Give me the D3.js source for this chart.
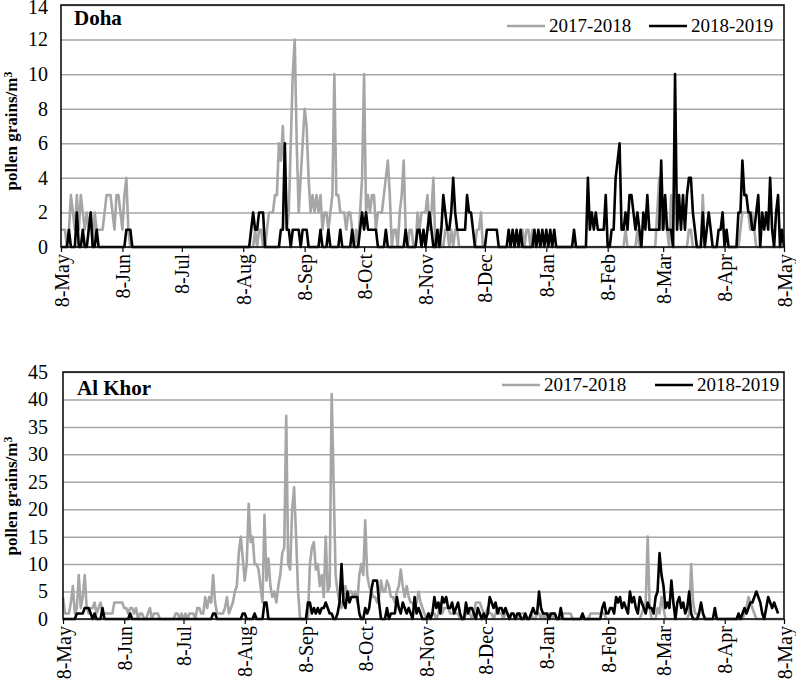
<!DOCTYPE html>
<html>
<head>
<meta charset="utf-8">
<script src="https://cdn.jsdelivr.net/npm/d3@7"></script>
<style>
  body { margin: 0; background: #fff; }
  text { font-family: "Liberation Serif", "Times New Roman", serif; fill: #000; }
</style>
</head>
<body>
<svg id="chart" width="796" height="682"></svg>
<script>
// daily pollen counts from 8-May to 8-May, one row per month (8th .. 7th)
const dohaA = [
  1,1,1,0,1,3,2,1,3,1, 3,2,1,2,1,2,0,2,1,1, 1,1,2,3,3,3,2,1,3,3, 2,
  1,3,4,1,0,0,0,0,0,0, 0,0,0,0,0,0,0,0,0,0, 0,0,0,0,0,0,0,0,0,0,
  0,0,0,0,0,0,0,0,0,0, 0,0,0,0,0,0,0,0,0,0, 0,0,0,0,0,0,0,0,0,0, 0,
  0,0,0,0,0,0,1,0,1,1, 0,0,1,2,2,2,3,3,6,5, 7,4,1,2,6,10,12,6,2,4, 6,
  8,7,4,2,3,2,3,2,3,1, 2,2,1,2,3,10,3,3,2,2, 2,1,2,2,1,0,1,0,2,4,
  10,2,3,2,3,3,1,2,2,2, 3,4,5,3,0,1,1,0,2,3, 5,1,0,1,1,0,0,2,1,2, 2,
  2,3,1,2,4,0,0,1,0,0, 1,1,0,1,0,1,1,0,0,0, 0,0,0,0,0,0,1,1,2,0,
  0,0,0,0,0,0,0,0,0,0, 0,0,0,0,0,0,0,0,0,1, 0,1,1,0,1,0,0,0,0,0, 0,
  0,0,0,0,0,0,0,0,0,0, 0,0,0,0,0,0,0,0,0,0, 0,0,0,0,0,0,0,0,0,0, 0,
  0,0,0,0,0,0,0,0,0,1, 0,0,0,0,0,1,0,0,0,0, 0,0,0,0,0,2,4,1,
  1,2,1,0,3,0,0,0,0,0, 0,0,0,1,1,0,0,0,0,0, 3,0,0,0,0,0,0,0,0,0, 0,
  0,0,0,0,0,0,0,0,1,2, 2,2,2,1,2,1,0,0,0,0, 0,0,0,0,0,0,0,0,0,0,
  0
];
const dohaB = [
  0,0,0,0,1,0,0,0,2,0, 0,1,0,0,1,2,0,0,1,0, 0,0,0,0,0,0,0,0,0,0, 0,
  0,0,1,1,1,0,0,0,0,0, 0,0,0,0,0,0,0,0,0,0, 0,0,0,0,0,0,0,0,0,0,
  0,0,0,0,0,0,0,0,0,0, 0,0,0,0,0,0,0,0,0,0, 0,0,0,0,0,0,0,0,0,0, 0,
  0,0,0,0,1,2,1,1,2,2, 2,0,0,0,0,0,0,0,0,1, 1,6,1,1,0,1,1,1,1,0, 1,
  1,1,0,0,0,0,0,0,1,0, 0,0,1,0,0,0,0,0,1,0, 0,0,0,0,1,0,0,0,1,2,
  1,2,1,1,1,1,1,0,0,0, 0,1,0,0,0,0,0,0,0,0, 0,1,0,0,0,0,0,1,1,0, 1,
  0,1,2,1,0,0,1,0,1,3, 2,1,1,2,4,2,1,1,1,1, 1,3,2,2,1,0,0,0,0,0,
  0,1,1,1,1,1,1,0,0,0, 0,0,1,0,1,0,1,0,1,0, 0,0,0,0,0,1,0,1,0,1, 0,
  1,0,1,0,1,0,0,0,0,0, 0,0,0,0,1,0,0,0,0,0, 0,4,1,2,1,2,1,1,1,1, 3,
  0,0,1,1,4,5,6,1,1,2, 1,3,3,2,1,2,1,0,2,1, 3,1,1,1,1,1,1,5,
  1,3,1,1,1,0,10,1,3,1, 3,1,3,4,4,2,1,0,0,0, 2,0,1,2,1,0,0,0,1,1, 2,
  0,1,0,0,0,0,0,2,2,5, 3,3,2,2,1,1,2,3,0,2, 1,2,1,4,1,0,2,3,0,1,
  0
];
const khorA = [
  4,1,1,1,3,6,1,2,8,2, 4,8,2,1,2,2,3,1,2,3, 1,1,1,1,1,1,3,3,3,3, 3,
  2,2,1,2,2,1,2,0,1,1, 0,0,1,2,0,1,1,1,0,0, 0,0,0,0,0,0,1,1,0,1,
  0,1,0,1,1,1,0,2,2,1, 1,4,2,4,3,8,3,1,1,1, 1,2,4,1,2,3,5,6,12,15, 11,
  7,10,21,14,15,10,10,9,6,3, 19,7,11,6,4,5,3,6,8,12, 13,37,10,9,20,24,15,5,0,0, 0,
  0,0,10,13,14,9,10,6,8,4, 15,5,6,41,25,8,5,3,2,4, 6,4,5,5,4,5,3,8,10,8,
  18,8,6,5,4,4,3,4,7,5, 5,7,6,4,4,3,5,6,9,6, 4,6,4,3,3,2,3,5,3,2, 1,
  0,1,1,1,1,0,1,3,1,2, 2,2,1,1,1,1,1,0,0,0, 1,2,1,0,1,3,3,3,2,1,
  1,2,1,1,0,1,2,1,1,0, 1,1,0,0,0,0,0,1,1,1, 1,0,0,1,0,0,1,1,0,1, 0,
  1,1,0,1,0,0,0,0,1,1, 1,1,1,0,0,0,0,0,0,0, 0,0,1,1,1,1,1,1,1,1, 0,
  0,0,0,0,0,0,0,0,0,0, 0,0,0,0,0,0,0,1,2,3, 15,2,0,0,0,2,1,4,
  2,0,0,0,0,0,0,0,0,0, 0,0,0,1,10,3,1,1,0,0, 0,0,0,0,0,0,0,0,0,0, 0,
  0,0,0,0,0,0,0,0,0,0, 1,2,4,3,2,1,0,0,0,0, 0,0,0,0,0,0,0,0,0,0,
  0
];
const khorB = [
  0,0,0,0,0,0,0,1,1,1, 1,2,2,2,1,0,1,0,0,0, 2,0,0,0,0,0,0,0,0,0, 0,
  0,0,0,1,0,0,0,0,0,0, 0,0,0,0,0,0,0,0,0,0, 0,0,0,0,0,0,0,0,0,0,
  0,0,0,0,0,0,0,0,0,0, 0,0,0,0,0,1,1,0,0,0, 0,0,0,0,0,0,0,0,0,0, 1,
  1,0,0,0,0,1,0,0,0,0, 3,3,0,0,0,0,0,0,0,0, 0,0,0,0,0,0,0,0,0,0, 0,
  0,3,3,1,2,1,2,1,2,2, 3,2,1,1,0,0,1,3,10,3, 2,5,3,4,4,4,4,1,0,0,
  2,1,2,5,7,7,7,3,0,0, 0,2,0,1,1,1,4,2,1,3, 2,1,2,1,0,4,1,2,1,0, 0,
  0,1,0,1,4,2,3,1,4,3, 4,2,2,3,1,2,3,1,0,0, 3,1,2,2,1,0,2,1,0,1,
  0,1,4,3,2,3,1,2,2,1, 2,1,0,1,1,0,1,1,0,0, 1,0,0,1,2,1,1,5,2,1, 1,
  1,0,1,1,1,0,0,2,0,0, 0,0,0,0,0,0,0,0,1,0, 0,0,0,0,0,0,0,0,2,3, 1,
  1,2,2,1,4,3,4,2,3,2, 1,5,3,4,2,1,4,3,2,1, 3,2,2,1,4,5,12,8,
  6,2,3,2,7,3,0,3,4,2, 3,1,2,5,1,0,0,0,1,3, 1,0,0,0,0,0,2,0,0,0, 0,
  0,0,0,0,0,0,0,1,0,1, 2,1,2,3,3,4,5,4,3,1, 0,2,4,3,2,3,2,1,null,null,
  null
];

const monthLabels = ["8-May", "8-Jun", "8-Jul", "8-Aug", "8-Sep", "8-Oct", "8-Nov",
                     "8-Dec", "8-Jan", "8-Feb", "8-Mar", "8-Apr", "8-May"];
const seriesNames = ["2017-2018", "2018-2019"];
const seriesColors = ["#a6a6a6", "#000000"];
const dohaTicks = [0, 2, 4, 6, 8, 10, 12, 14];
const khorTicks = [0, 5, 10, 15, 20, 25, 30, 35, 40, 45];

const svg = d3.select('#chart');
const start = new Date(Date.UTC(2018, 4, 8));
const dates = d3.utcDay.range(start, d3.utcDay.offset(start, 366));
const tickDates = monthLabels.map((m, i) => d3.utcMonth.offset(start, i));

function drawPanel(p) {
    const x = d3.scaleUtc()
        .domain([start, tickDates[tickDates.length - 1]])
        .range([p.left, p.right]);
    const y = d3.scaleLinear()
        .domain([0, d3.max(p.ticks)])
        .range([p.bottom, p.top]);

    const g = svg.append('g');

    // horizontal gridlines
    g.append('g')
        .attr('transform', `translate(${p.left},0)`)
        .call(d3.axisLeft(y).tickValues(p.ticks).tickSize(-(p.right - p.left)).tickFormat(''))
        .call(a => a.select('.domain').remove())
        .selectAll('line')
        .attr('stroke', '#a6a6a6')
        .attr('stroke-width', 1.5);

    // y tick labels (top one nudged down so it stays on the page)
    g.append('g')
        .attr('transform', `translate(${p.left},0)`)
        .call(d3.axisLeft(y).tickValues(p.ticks).tickSize(0).tickPadding(p.left - 48))
        .call(a => a.select('.domain').remove())
        .selectAll('text')
        .attr('font-size', 20)
        .attr('font-family', '"Liberation Serif", serif')
        .attr('fill', '#000')
        .attr('dy', d => (p.top < 10 && d === d3.max(p.ticks)) ? '0.42em' : '0.32em');

    // x axis, rotated month labels
    g.append('g')
        .attr('transform', `translate(0,${p.bottom})`)
        .call(d3.axisBottom(x).tickValues(tickDates).tickSize(5).tickFormat((d, i) => monthLabels[i]))
        .call(a => a.select('.domain').remove())
        .call(a => a.selectAll('line').attr('stroke', '#000').attr('stroke-width', 1.2))
        .selectAll('text')
        .attr('font-size', 20)
        .attr('font-family', '"Liberation Serif", serif')
        .attr('fill', '#000')
        .attr('transform', 'rotate(-90)')
        .attr('text-anchor', 'end')
        .attr('x', -7)
        .attr('y', 0)
        .attr('dy', '0.35em');

    const line = d3.line()
        .defined(v => v != null)
        .x((v, i) => x(dates[i]))
        .y(v => y(v));

    g.append('g')
        .selectAll('path')
        .data(p.series)
        .enter()
        .append('path')
        .attr('d', s => line(s))
        .attr('fill', 'none')
        .attr('stroke', (s, i) => seriesColors[i])
        .attr('stroke-width', 2.6)
        .attr('stroke-linejoin', 'round');

    // plot frame
    g.append('rect')
        .attr('x', p.left)
        .attr('y', p.top)
        .attr('width', p.right - p.left)
        .attr('height', p.bottom - p.top)
        .attr('fill', 'none')
        .attr('stroke', '#111')
        .attr('stroke-width', 1.6);

    g.append('text')
        .attr('x', p.titleX)
        .attr('y', p.titleY)
        .attr('font-size', 21)
        .attr('font-weight', 'bold')
        .text(p.title);

    // y axis title
    const yt = g.append('text')
        .attr('transform', `translate(17,${p.labelY}) rotate(-90)`)
        .attr('text-anchor', 'middle')
        .attr('font-size', 17)
        .attr('font-weight', 'bold');
    yt.append('tspan').text('pollen grains/m');
    yt.append('tspan').attr('dy', '-0.45em').attr('font-size', 12).text('3');

    // legend
    const lg = g.append('g')
        .selectAll('g')
        .data(seriesNames)
        .enter()
        .append('g')
        .attr('transform', (d, i) => `translate(${p.legendX[i]},${p.legendY})`);
    lg.append('line')
        .attr('x1', 0)
        .attr('x2', 38)
        .attr('stroke', (d, i) => seriesColors[i])
        .attr('stroke-width', 2.6);
    lg.append('text')
        .attr('x', 42)
        .attr('dy', '0.33em')
        .attr('font-size', 19)
        .text(d => d);
}

drawPanel({
    title: 'Doha', series: [dohaA, dohaB], ticks: dohaTicks,
    left: 61, right: 784, top: 5, bottom: 247,
    titleX: 74, titleY: 25, labelY: 131,
    legendX: [507, 649], legendY: 26
});
drawPanel({
    title: 'Al Khor', series: [khorA, khorB], ticks: khorTicks,
    left: 63, right: 784, top: 372, bottom: 619,
    titleX: 77, titleY: 395, labelY: 496,
    legendX: [502, 655], legendY: 385
});
</script>
</body>
</html>
